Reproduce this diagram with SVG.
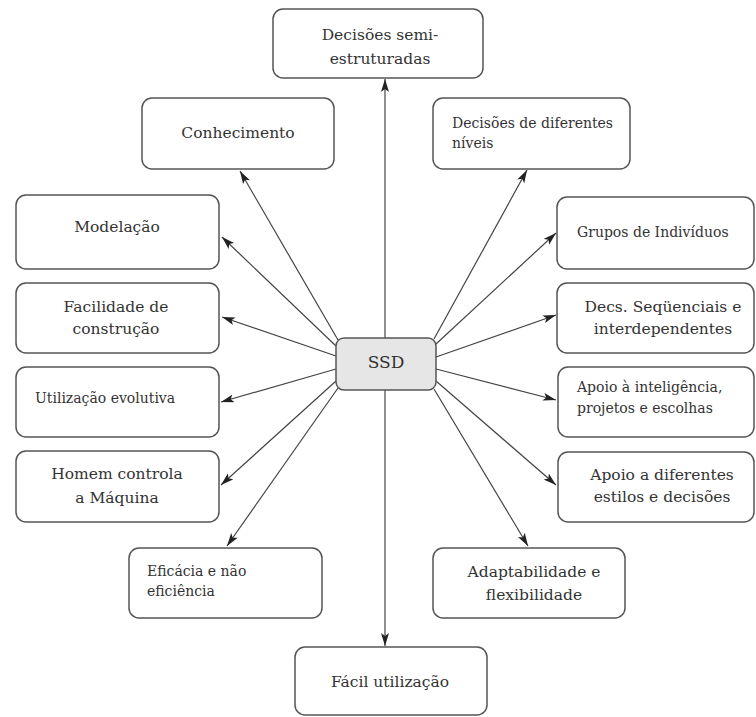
<svg xmlns="http://www.w3.org/2000/svg" width="756" height="717" viewBox="0 0 756 717">
<defs>
<style>
.box{fill:#fff;stroke:#555;stroke-width:1.5}
.ssd{fill:#e6e6e6;stroke:#555;stroke-width:1.5}
text{fill:#333;font-family:"DejaVu Serif","Liberation Serif",serif}
.l{font-size:15.5px}
.s{font-size:14px}
.c{text-anchor:middle}
.ln{stroke:#444;stroke-width:1.2;fill:none;marker-end:url(#ah)}
</style>
<marker id="ah" markerUnits="userSpaceOnUse" markerWidth="14" markerHeight="10" refX="13" refY="4" orient="auto">
<path d="M0,0 L13,4 L0,8 L3,4 Z" fill="#222"/>
</marker>
</defs>
<rect width="756" height="717" fill="#fff"/>
<g id="connectors">
<line class="ln" x1="385" y1="338" x2="385" y2="79"/>
<line class="ln" x1="385" y1="390" x2="385" y2="646"/>
<line class="ln" x1="338" y1="340" x2="240" y2="171"/>
<line class="ln" x1="434" y1="339" x2="527" y2="170"/>
<line class="ln" x1="336" y1="346" x2="222" y2="237"/>
<line class="ln" x1="336" y1="356" x2="222" y2="317"/>
<line class="ln" x1="336" y1="369" x2="221" y2="402"/>
<line class="ln" x1="336" y1="381" x2="221" y2="485"/>
<line class="ln" x1="338" y1="388" x2="227" y2="546"/>
<line class="ln" x1="436" y1="344" x2="556" y2="233"/>
<line class="ln" x1="436" y1="357" x2="556" y2="315"/>
<line class="ln" x1="436" y1="369" x2="556" y2="400"/>
<line class="ln" x1="436" y1="381" x2="556" y2="485"/>
<line class="ln" x1="434" y1="389" x2="528" y2="546"/>
</g>
<g id="ssd">
<rect class="ssd" x="336" y="338" width="100" height="52" rx="8"/>
<text class="c" x="386" y="368" font-size="17">SSD</text>
</g>
<g id="n-top">
<rect class="box" x="273" y="9" width="210" height="69" rx="10"/>
<text class="l c" x="380" y="40">Decisões semi-</text>
<text class="l c" x="380" y="64">estruturadas</text>
</g>
<g id="n-conhecimento">
<rect class="box" x="142" y="98" width="192" height="71" rx="10"/>
<text class="l c" x="238" y="138">Conhecimento</text>
</g>
<g id="n-niveis">
<rect class="box" x="433" y="98" width="197" height="71" rx="10"/>
<text class="s" x="452" y="128">Decisões de diferentes</text>
<text class="s" x="452" y="148">níveis</text>
</g>
<g id="n-modelacao">
<rect class="box" x="16" y="195" width="203" height="74" rx="10"/>
<text class="l c" x="117" y="232">Modelação</text>
</g>
<g id="n-facilidade">
<rect class="box" x="16" y="283" width="203" height="70" rx="10"/>
<text class="l c" x="116" y="312">Facilidade de</text>
<text class="l c" x="116" y="334">construção</text>
</g>
<g id="n-utilizacao">
<rect class="box" x="16" y="367" width="203" height="70" rx="10"/>
<text class="s" x="35" y="403">Utilização evolutiva</text>
</g>
<g id="n-homem">
<rect class="box" x="16" y="451" width="203" height="71" rx="10"/>
<text class="l c" x="117" y="479">Homem controla</text>
<text class="l c" x="117" y="503">a Máquina</text>
</g>
<g id="n-eficacia">
<rect class="box" x="129" y="548" width="193" height="70" rx="10"/>
<text class="s" x="147" y="576">Eficácia e não</text>
<text class="s" x="147" y="596">eficiência</text>
</g>
<g id="n-grupos">
<rect class="box" x="557" y="197" width="197" height="72" rx="10"/>
<text class="s" x="577" y="237">Grupos de Indivíduos</text>
</g>
<g id="n-decs">
<rect class="box" x="557" y="283" width="197" height="70" rx="10"/>
<text class="l c" x="663" y="312">Decs. Seqüenciais e</text>
<text class="l c" x="663" y="334">interdependentes</text>
</g>
<g id="n-apoio-int">
<rect class="box" x="558" y="367" width="196" height="70" rx="10"/>
<text class="s" x="577" y="392">Apoio à inteligência,</text>
<text class="s" x="577" y="413">projetos e escolhas</text>
</g>
<g id="n-apoio-dif">
<rect class="box" x="558" y="452" width="196" height="70" rx="10"/>
<text class="l c" x="662" y="480">Apoio a diferentes</text>
<text class="l c" x="662" y="502">estilos e decisões</text>
</g>
<g id="n-adapt">
<rect class="box" x="433" y="548" width="192" height="70" rx="10"/>
<text class="l c" x="534" y="577">Adaptabilidade e</text>
<text class="l c" x="534" y="600">flexibilidade</text>
</g>
<g id="n-facil">
<rect class="box" x="295" y="647" width="192" height="68" rx="10"/>
<text class="l c" x="390" y="687">Fácil utilização</text>
</g>
</svg>
